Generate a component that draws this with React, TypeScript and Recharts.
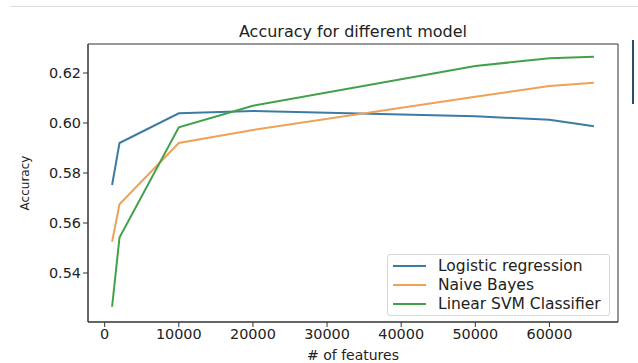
import React from 'react';
import {
    LineChart,
    Line,
    XAxis,
    YAxis,
    ReferenceArea,
} from 'recharts';

// number of features used for each run
const features = [1000, 2000, 10000, 20000, 50000, 60000, 66000];

const logisticAcc = [0.5752, 0.592, 0.6039, 0.6048, 0.6027, 0.6013, 0.5987];
const naiveBayesAcc = [0.5525, 0.5675, 0.592, 0.5972, 0.6105, 0.6148, 0.6161];
const svmAcc = [0.5265, 0.5542, 0.5983, 0.6069, 0.6228, 0.6259, 0.6265];

const xTicks = [0, 10000, 20000, 30000, 40000, 50000, 60000];
const yTicks = [0.54, 0.56, 0.58, 0.6, 0.62];

const X_DOMAIN: [number, number] = [-2250, 69250];
const Y_DOMAIN: [number, number] = [0.5204, 0.6316];

const series = [
    { key: 'logistic', name: 'Logistic regression', color: '#3d7ba3' },
    { key: 'nb', name: 'Naive Bayes', color: '#eea157' },
    { key: 'svm', name: 'Linear SVM Classifier', color: '#43a04a' },
];

const data = features.map((f, i) => ({
    features: f,
    logistic: logisticAcc[i],
    nb: naiveBayesAcc[i],
    svm: svmAcc[i],
}));

const FONT = '"DejaVu Sans", sans-serif';

// matplotlib-style legend box, placed over the lower right of the axes
const LegendBox = () => (
    <div
        style={{
            position: 'absolute',
            left: 387,
            top: 254,
            width: 223,
            height: 62,
            boxSizing: 'border-box',
            border: '1px solid #d8d8d8',
            borderRadius: 3,
            background: 'rgba(255,255,255,0.9)',
            padding: '1px 0 0 5px',
            fontFamily: FONT,
            fontSize: 15.5,
            color: '#222',
        }}
    >
        {series.map((s) => (
            <div key={s.key} style={{ display: 'flex', alignItems: 'center', height: 19, whiteSpace: 'nowrap' }}>
                <span
                    style={{
                        display: 'inline-block',
                        width: 33,
                        height: 2,
                        background: s.color,
                        marginRight: 12,
                        flex: 'none',
                    }}
                />
                {s.name}
            </div>
        ))}
    </div>
);

export default function App() {
    return (
        <div style={{ position: 'fixed', left: 0, top: 0, width: 638, height: 363, background: '#fff' }}>
            <div style={{ position: 'absolute', left: 10, right: 0, top: 6, height: 1, background: '#dcdcdc' }} />
            <div style={{ position: 'absolute', left: 632, top: 40, width: 2, height: 64, background: '#2d4d6a' }} />
            <div
                style={{
                    position: 'absolute',
                    left: 88,
                    width: 530,
                    top: 22,
                    textAlign: 'center',
                    fontFamily: FONT,
                    fontSize: 16,
                    color: '#222',
                    lineHeight: '20px',
                }}
            >
                Accuracy for different model
            </div>
            <LineChart
                width={638}
                height={363}
                data={data}
                margin={{ top: 44, right: 20, bottom: 0, left: 8 }}
                style={{ fontFamily: FONT }}
            >
                <XAxis
                    dataKey="features"
                    type="number"
                    domain={X_DOMAIN}
                    ticks={xTicks}
                    allowDataOverflow
                    height={41}
                    tickSize={5}
                    tick={{ fill: '#222', fontSize: 14.4 }}
                    stroke="#333"
                    label={{ value: '# of features', position: 'insideBottom', offset: 3, fill: '#222', fontSize: 14 }}
                />
                <YAxis
                    type="number"
                    domain={Y_DOMAIN}
                    ticks={yTicks}
                    allowDataOverflow
                    width={80}
                    tickSize={5}
                    tick={{ fill: '#222', fontSize: 14.4 }}
                    tickFormatter={(v: number) => v.toFixed(2)}
                    stroke="#333"
                    label={{
                        value: 'Accuracy',
                        angle: -90,
                        position: 'insideLeft',
                        offset: 17,
                        fill: '#222',
                        fontSize: 12,
                        style: { textAnchor: 'middle' },
                    }}
                />
                <ReferenceArea
                    x1={X_DOMAIN[0]}
                    x2={X_DOMAIN[1]}
                    y1={Y_DOMAIN[0]}
                    y2={Y_DOMAIN[1]}
                    fill="none"
                    stroke="#333"
                    strokeWidth={1}
                />
                {series.map((s) => (
                    <Line
                        key={s.key}
                        type="linear"
                        dataKey={s.key}
                        name={s.name}
                        stroke={s.color}
                        strokeWidth={2}
                        dot={false}
                        isAnimationActive={false}
                    />
                ))}
            </LineChart>
            <LegendBox />
        </div>
    );
}
